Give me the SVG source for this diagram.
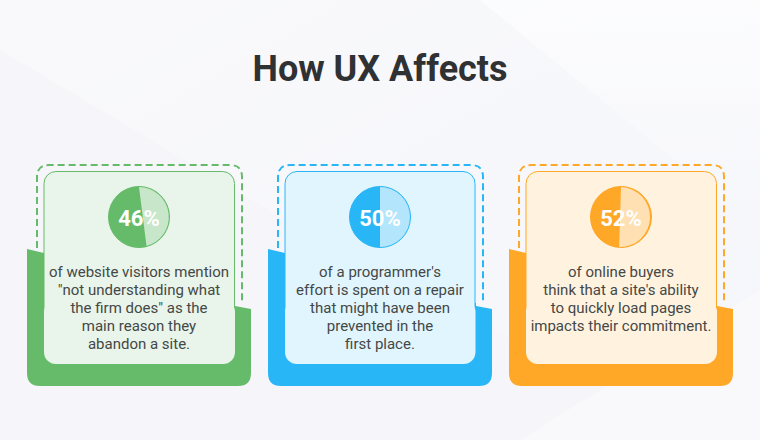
<svg xmlns="http://www.w3.org/2000/svg" width="760" height="440" viewBox="0 0 760 440">
<defs>
<linearGradient id="bg" x1="0" y1="0" x2="1" y2="1"><stop offset="0" stop-color="#f9f9fb"/><stop offset="1" stop-color="#f5f6fb"/></linearGradient>
<linearGradient id="sh" x1="0" y1="0" x2="0" y2="1"><stop offset="0" stop-color="#ffffff" stop-opacity=".6"/><stop offset="1" stop-color="#ffffff" stop-opacity="0"/></linearGradient>
<path id="base" d="M0 0L17 4V54H208V57L224 60V124Q224 137 211 137H13Q0 137 0 124Z"/>
</defs>
<style>
text{font-family:Roboto,"Liberation Sans",sans-serif}
.t{font-size:36px;font-weight:700;fill:#2f3133;text-anchor:middle}
.b{font-size:15px;fill:#444846;text-anchor:middle}
.p{font-size:22px;font-weight:700;fill:#fff;text-anchor:middle}
.d{fill:none;stroke-width:2;stroke-dasharray:7 4}
</style>
<rect width="760" height="440" fill="url(#bg)"/>
<path d="M0 50L420 300L760 440H0Z" fill="#f6f6fa"/>
<path d="M480 0H760V230Z" fill="url(#sh)"/>
<path d="M520 440L760 290V440Z" fill="#f9f9fc"/>
<text class="t" x="380" y="81">How UX Affects</text>

<g id="card-1">
<use href="#base" x="27" y="249" fill="#66bb6a"/>
<path class="d" stroke="#66bb6a" d="M37 303V177Q37 165 49 165H230Q242 165 242 177V303"/>
<rect x="44" y="171.500" width="190.500" height="192.500" rx="12" fill="#e9f5ea" stroke="#66bb6a"/>
<rect x="44" y="300" width="191" height="64" rx="12" fill="#e9f5ea"/>
<circle cx="139" cy="217" r="30.500" fill="#66bb6a" stroke="#66bb6a"/>
<path d="M139 187A30 30 0 0 1 146.500 246Z" fill="#c8e6c9"/>
<text class="p" x="139" y="226">46%</text>
<text class="b"><tspan x="139" y="277">of website visitors mention</tspan><tspan x="139" y="295">"not understanding what</tspan><tspan x="139" y="313">the firm does" as the</tspan><tspan x="139" y="331">main reason they</tspan><tspan x="139" y="349">abandon a site.</tspan></text>
</g>

<g id="card-2">
<use href="#base" x="268" y="249" fill="#29b6f6"/>
<path class="d" stroke="#29b6f6" d="M278 303V177Q278 165 290 165H471Q483 165 483 177V303"/>
<rect x="285" y="171.500" width="190" height="192.500" rx="12" fill="#e1f5fe" stroke="#29b6f6"/>
<rect x="285" y="300" width="190.500" height="64" rx="12" fill="#e1f5fe"/>
<circle cx="380" cy="217" r="30.500" fill="#29b6f6" stroke="#29b6f6"/>
<path d="M380 187A30 30 0 0 1 380 247Z" fill="#b3e5fc"/>
<text class="p" x="380" y="226">50%</text>
<text class="b"><tspan x="380" y="277">of a programmer's</tspan><tspan x="380" y="295">effort is spent on a repair</tspan><tspan x="380" y="313">that might have been</tspan><tspan x="380" y="331">prevented in the</tspan><tspan x="380" y="349">first place.</tspan></text>
</g>

<g id="card-3">
<use href="#base" x="509" y="249" fill="#ffa726"/>
<path class="d" stroke="#ffa726" d="M519 303V177Q519 165 531 165H712Q724 165 724 177V303"/>
<rect x="526" y="171.500" width="190.500" height="192.500" rx="12" fill="#fff3e0" stroke="#ffa726"/>
<rect x="526" y="300" width="191" height="64" rx="12" fill="#fff3e0"/>
<circle cx="621" cy="217" r="30.500" fill="#ffa726" stroke="#ffa726"/>
<path d="M621 187A30 30 0 0 1 619.100 247Z" fill="#ffe0b2"/>
<text class="p" x="621" y="226">52%</text>
<text class="b"><tspan x="621" y="277">of online buyers</tspan><tspan x="621" y="295">think that a site's ability</tspan><tspan x="621" y="313">to quickly load pages</tspan><tspan x="621" y="331">impacts their commitment.</tspan></text>
</g>
</svg>
